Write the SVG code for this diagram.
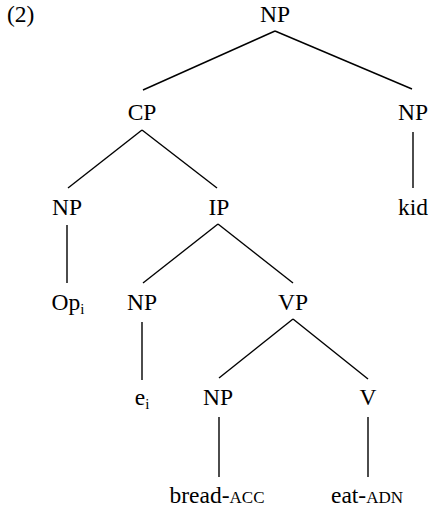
<svg xmlns="http://www.w3.org/2000/svg" width="431" height="510" viewBox="0 0 431 510">
<style>
text{font-family:"Liberation Serif","Times New Roman",serif;font-size:23.5px;fill:#000;text-anchor:middle}
.sc{font-size:17px}
.sub{font-size:15px}
line{stroke:#000;stroke-width:1.4}
</style>
<rect width="431" height="510" fill="#fff"/>
<text x="7" y="22" style="text-anchor:start">(2)</text>
<g id="connectors">
<line x1="275" y1="31" x2="143" y2="90"/>
<line x1="275" y1="31" x2="412" y2="89"/>
<line x1="142" y1="130" x2="68" y2="188"/>
<line x1="142" y1="130" x2="217" y2="188"/>
<line x1="413" y1="132" x2="413" y2="188"/>
<line x1="67" y1="225" x2="67" y2="283"/>
<line x1="218" y1="224" x2="143" y2="283"/>
<line x1="218" y1="224" x2="293" y2="283"/>
<line x1="142" y1="322" x2="142" y2="380"/>
<line x1="293" y1="319" x2="219" y2="378"/>
<line x1="293" y1="319" x2="368" y2="379"/>
<line x1="219" y1="417" x2="219" y2="477"/>
<line x1="368" y1="417" x2="368" y2="477"/>
</g>
<g id="n-np-root"><text x="275" y="22">NP</text></g>
<g id="n-cp"><text x="142" y="120">CP</text></g>
<g id="n-np-head"><text x="413" y="120">NP</text></g>
<g id="n-np-op"><text x="67" y="215">NP</text></g>
<g id="n-ip"><text x="219" y="215">IP</text></g>
<g id="n-kid"><text x="413" y="215">kid</text></g>
<g id="n-op"><text x="68" y="310">Op<tspan class="sub" dy="4">i</tspan></text></g>
<g id="n-np-subj"><text x="142" y="310">NP</text></g>
<g id="n-vp"><text x="293" y="310">VP</text></g>
<g id="n-e"><text x="142" y="405">e<tspan class="sub" dy="4">i</tspan></text></g>
<g id="n-np-obj"><text x="218" y="405">NP</text></g>
<g id="n-v"><text x="368" y="405">V</text></g>
<g id="n-bread"><text x="217" y="503">bread-<tspan class="sc">ACC</tspan></text></g>
<g id="n-eat"><text x="367" y="503">eat-<tspan class="sc">ADN</tspan></text></g>
</svg>
